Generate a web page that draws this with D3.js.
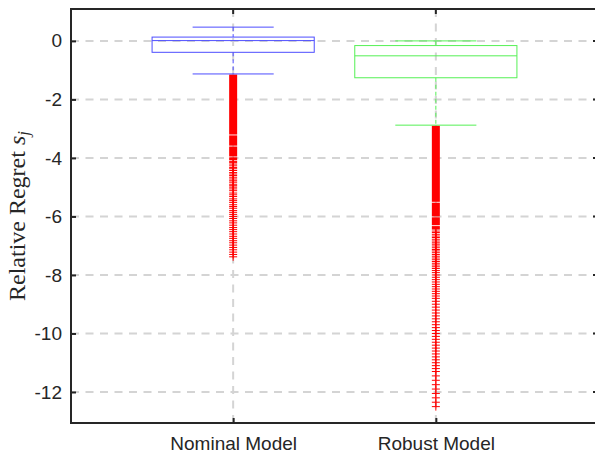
<!DOCTYPE html>
<meta charset="utf-8">
<style>
  body { margin: 0; background: #fff; }
  svg { display: block; }
  .tick text { font-family: "Liberation Sans", Arial, sans-serif; fill: #262626; }
</style>
<svg width="595" height="456"></svg>
<script src="https://d3js.org/d3.v7.min.js"></script>
<script>
// box stats
var categories = ["Nominal Model", "Robust Model"]
var boxColors = ["#4d4dff", "#55f055"]
var whiskerHigh = [0.47, 0.0]
var q3 = [0.13, -0.16]
var median = [0.01, -0.51]
var q1 = [-0.39, -1.26]
var whiskerLow = [-1.13, -2.88]
var yTicks = [-12, -10, -8, -6, -4, -2, 0]

// outliers: stretches where the + markers pile up into solid red, then single ones
var nominalBands = [[-1.15, -3.2], [-3.23, -3.58], [-3.61, -3.95], [-3.98, -4.08]]
var nominalSingles = [-4.12, -4.16, -4.21, -4.27, -4.33, -4.37, -4.43, -4.5, -4.55, -4.6,
  -4.66, -4.72, -4.78, -4.83, -4.9, -4.95, -5.0, -5.06, -5.12, -5.2, -5.26, -5.32,
  -5.4, -5.46, -5.52, -5.6, -5.66, -5.72, -5.8, -5.86, -5.93, -6.0, -6.07, -6.15,
  -6.22, -6.3, -6.38, -6.45, -6.52, -6.6, -6.68, -6.75, -6.83, -6.9, -6.98, -7.06,
  -7.14, -7.22, -7.3, -7.38]
var robustBands = [[-2.9, -5.5], [-5.53, -6.0], [-6.03, -6.3], [-6.33, -6.45]]
var robustSingles = [-6.5, -6.55, -6.61, -6.67, -6.72, -6.78, -6.84, -6.9, -6.95, -7.01,
  -7.07, -7.13, -7.18, -7.24, -7.3, -7.36, -7.42, -7.48, -7.54, -7.6, -7.66, -7.72,
  -7.78, -7.85, -7.92, -8.0, -8.08, -8.16, -8.24, -8.32, -8.4, -8.48, -8.56, -8.64,
  -8.72, -8.8, -8.9, -9.0, -9.1, -9.2, -9.3, -9.4, -9.5, -9.6, -9.7, -9.8, -9.9,
  -10.0, -10.1, -10.2, -10.3, -10.4, -10.5, -10.6, -10.7, -10.8, -10.9, -11.0,
  -11.1, -11.2, -11.3, -11.45, -11.6, -11.75, -11.9, -12.05, -12.2, -12.35, -12.5]

var bands = [nominalBands, robustBands]
var singles = [nominalSingles, robustSingles]

var svg = d3.select('svg')
var mLeft = 71, mRight = 598, mTop = 9, mBottom = 423

var x = d3.scaleLinear().domain([0.2, 2.8]).range([mLeft, mRight])
var y = d3.scaleLinear().domain([-13.06, 1.09]).range([mBottom, mTop])
var boxW = x(1.4) - x(1)   // half of box width (0.8)
var capW = x(1.2) - x(1)   // half of cap width (0.4)

// grid
var grid = svg.append('g')
  .attr('stroke', '#d4d4d4').attr('stroke-width', 2).attr('stroke-dasharray', '8,6.5')
grid.selectAll('line.h').data(yTicks).enter().append('line')
  .attr('x1', mLeft).attr('x2', mRight)
  .attr('y1', function (d) { return y(d) }).attr('y2', function (d) { return y(d) })
grid.selectAll('line.v').data(categories).enter().append('line')
  .attr('y1', mTop).attr('y2', mBottom)
  .attr('x1', function (d, i) { return x(i + 1) }).attr('x2', function (d, i) { return x(i + 1) })

// boxes
var g = svg.selectAll('g.box').data(categories).enter().append('g')
  .attr('class', 'box')
  .attr('transform', function (d, i) { return 'translate(' + x(i + 1) + ',0)' })

// outliers first so the whisker cap sits on top
g.each(function (d, i) {
  var el = d3.select(this)
  el.selectAll('rect.band').data(bands[i]).enter().append('rect')
    .attr('x', -4).attr('width', 8)
    .attr('y', function (b) { return y(b[0]) })
    .attr('height', function (b) { return y(b[1]) - y(b[0]) })
    .attr('fill', 'red')
  el.selectAll('path.out').data(singles[i]).enter().append('path')
    .attr('d', function (v) { return 'M-4,' + y(v) + 'H4M0,' + (y(v) - 4) + 'V' + (y(v) + 4) })
    .attr('stroke', 'red').attr('stroke-width', 1).attr('fill', 'none')
})

g.append('line')
  .attr('y1', function (d, i) { return y(whiskerHigh[i]) })
  .attr('y2', function (d, i) { return y(q3[i]) })
  .attr('stroke', function (d, i) { return boxColors[i] }).attr('stroke-dasharray', '4,3')
g.append('line')
  .attr('y1', function (d, i) { return y(q1[i]) })
  .attr('y2', function (d, i) { return y(whiskerLow[i]) })
  .attr('stroke', function (d, i) { return boxColors[i] }).attr('stroke-dasharray', '4,3')
g.append('line').attr('x1', -capW).attr('x2', capW)
  .attr('y1', function (d, i) { return y(whiskerHigh[i]) })
  .attr('y2', function (d, i) { return y(whiskerHigh[i]) })
  .attr('stroke', function (d, i) { return boxColors[i] })
g.append('line').attr('x1', -capW).attr('x2', capW)
  .attr('y1', function (d, i) { return y(whiskerLow[i]) })
  .attr('y2', function (d, i) { return y(whiskerLow[i]) })
  .attr('stroke', function (d, i) { return boxColors[i] })
g.append('rect').attr('x', -boxW).attr('width', 2 * boxW)
  .attr('y', function (d, i) { return y(q3[i]) })
  .attr('height', function (d, i) { return y(q1[i]) - y(q3[i]) })
  .attr('fill', 'none').attr('stroke', function (d, i) { return boxColors[i] })
g.append('line').attr('x1', -boxW).attr('x2', boxW)
  .attr('y1', function (d, i) { return y(median[i]) })
  .attr('y2', function (d, i) { return y(median[i]) })
  .attr('stroke', function (d, i) { return boxColors[i] })

// axes
var yAxis = d3.axisLeft(y).tickValues(yTicks).tickSize(-5).tickPadding(9)
  .tickFormat(function (d) { return String(d) })
svg.append('g').attr('transform', 'translate(' + mLeft + ',0)').call(yAxis)
  .call(function (a) { a.select('.domain').remove() })
var xAxis = d3.axisBottom(x).tickValues([1, 2]).tickSize(-5).tickPadding(14)
  .tickFormat(function (d) { return categories[d - 1] })
svg.append('g').attr('transform', 'translate(0,' + mBottom + ')').call(xAxis)
  .call(function (a) { a.select('.domain').remove() })
svg.selectAll('.tick text').attr('font-size', 19).attr('fill', '#262626')
svg.selectAll('.tick line').attr('stroke', '#262626').attr('stroke-width', 2)

// top and right ticks
svg.append('g').selectAll('line').data([1, 2]).enter().append('line')
  .attr('x1', function (d) { return x(d) }).attr('x2', function (d) { return x(d) })
  .attr('y1', mTop).attr('y2', mTop + 5).attr('stroke', '#262626').attr('stroke-width', 2)
svg.append('g').selectAll('line').data(yTicks).enter().append('line')
  .attr('x1', mRight - 5).attr('x2', mRight)
  .attr('y1', function (d) { return y(d) }).attr('y2', function (d) { return y(d) })
  .attr('stroke', '#262626').attr('stroke-width', 2)

svg.append('rect').attr('x', mLeft).attr('y', mTop)
  .attr('width', mRight - mLeft).attr('height', mBottom - mTop)
  .attr('fill', 'none').attr('stroke', '#262626').attr('stroke-width', 2)

// y label
var lab = svg.append('text')
  .attr('transform', 'translate(25,' + 216 + ') rotate(-90)')
  .attr('text-anchor', 'middle')
  .attr('font-family', '"Liberation Serif", "Times New Roman", serif')
  .attr('font-size', 24).attr('fill', '#262626')
lab.append('tspan').text('Relative Regret ')
lab.append('tspan').attr('font-style', 'italic').text('s')
lab.append('tspan').attr('font-style', 'italic').attr('font-size', 17).attr('dy', 4).text('j')
</script>
